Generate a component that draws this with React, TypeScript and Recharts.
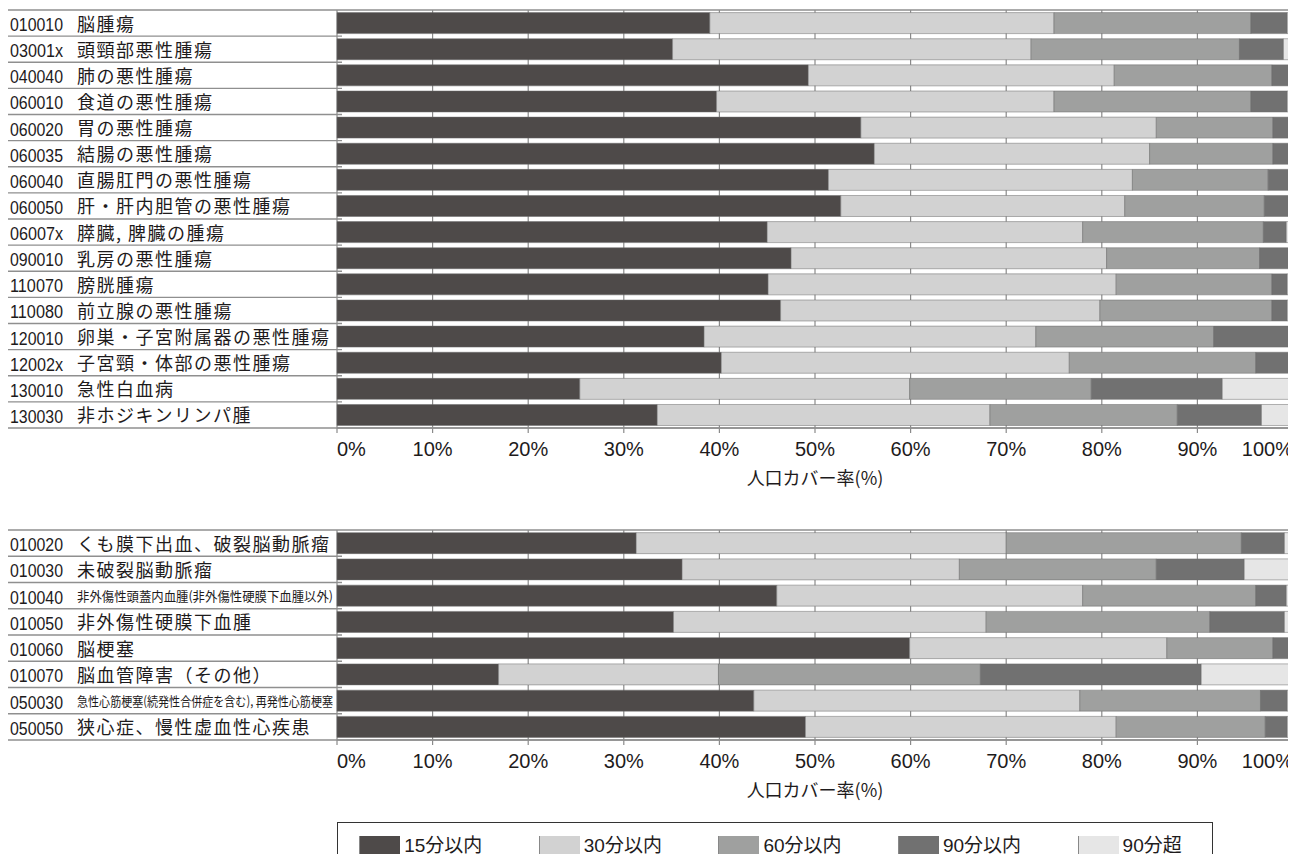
import React from 'react';
import { BarChart, Bar, XAxis, YAxis, CartesianGrid } from 'recharts';

const seriesNames = ['15分以内', '30分以内', '60分以内', '90分以内', '90分超'];
const seriesKeys = ['s15', 's30', 's60', 's90', 'sOver'];
const seriesColors = ['#4e4a49', '#d2d2d2', '#9fa09f', '#717171', '#e6e6e6'];
const xTicks = [0, 10, 20, 30, 40, 50, 60, 70, 80, 90, 100];
const axisTitle = '人口カバー率(%)';

const topCodes = ['010010', '03001x', '040040', '060010', '060020', '060035', '060040', '060050', '06007x', '090010', '110070', '110080', '120010', '12002x', '130010', '130030'];
const topNames = ['脳腫瘍', '頭頸部悪性腫瘍', '肺の悪性腫瘍', '食道の悪性腫瘍', '胃の悪性腫瘍', '結腸の悪性腫瘍', '直腸肛門の悪性腫瘍', '肝・肝内胆管の悪性腫瘍', '膵臓, 脾臓の腫瘍', '乳房の悪性腫瘍', '膀胱腫瘍', '前立腺の悪性腫瘍', '卵巣・子宮附属器の悪性腫瘍', '子宮頸・体部の悪性腫瘍', '急性白血病', '非ホジキンリンパ腫'];
const topWithin15 = [39.0, 35.1, 49.3, 39.7, 54.8, 56.2, 51.4, 52.7, 45.0, 47.5, 45.1, 46.4, 38.4, 40.2, 25.4, 33.5];
const topWithin30 = [36.0, 37.5, 32.0, 35.3, 30.9, 28.8, 31.8, 29.7, 33.0, 33.0, 36.4, 33.4, 34.7, 36.4, 34.5, 34.8];
const topWithin60 = [20.6, 21.8, 16.5, 20.6, 12.2, 12.9, 14.2, 14.6, 18.9, 16.0, 16.3, 18.0, 18.6, 19.5, 19.0, 19.6];
const topWithin90 = [3.8, 4.6, 1.8, 3.8, 1.7, 1.7, 2.2, 2.6, 2.4, 3.1, 1.6, 1.6, 7.9, 3.5, 13.7, 8.8];
const topOver90 = [0.6, 1.0, 0.4, 0.6, 0.4, 0.4, 0.4, 0.4, 0.7, 0.4, 0.6, 0.6, 0.4, 0.4, 7.4, 3.3];

const bottomCodes = ['010020', '010030', '010040', '010050', '010060', '010070', '050030', '050050'];
const bottomNames = ['くも膜下出血、破裂脳動脈瘤', '未破裂脳動脈瘤', '非外傷性頭蓋内血腫(非外傷性硬膜下血腫以外)', '非外傷性硬膜下血腫', '脳梗塞', '脳血管障害（その他）', '急性心筋梗塞(続発性合併症を含む), 再発性心筋梗塞', '狭心症、慢性虚血性心疾患'];
const bottomWithin15 = [31.3, 36.1, 46.0, 35.2, 59.9, 16.9, 43.6, 49.0];
const bottomWithin30 = [38.7, 29.0, 32.0, 32.7, 26.9, 23.0, 34.1, 32.5];
const bottomWithin60 = [24.6, 20.6, 18.1, 23.4, 11.1, 27.4, 18.9, 15.6];
const bottomWithin90 = [4.5, 9.2, 3.2, 7.8, 1.7, 23.1, 2.8, 2.3];
const bottomOver90 = [0.9, 5.1, 0.7, 0.9, 0.4, 9.6, 0.6, 0.6];

type Row = { code: string; name: string; [k: string]: any };

function buildRows(codes: string[], names: string[], a: number[], b: number[], c: number[], d: number[], e: number[]): Row[] {
  return codes.map((code, i) => ({
    code,
    name: names[i],
    s15: a[i],
    s30: b[i],
    s60: c[i],
    s90: d[i],
    sOver: e[i],
  }));
}

const topRows = buildRows(topCodes, topNames, topWithin15, topWithin30, topWithin60, topWithin90, topOver90);
const bottomRows = buildRows(bottomCodes, bottomNames, bottomWithin15, bottomWithin30, bottomWithin60, bottomWithin90, bottomOver90);

const CHART_W = 1288;
const Y_W = 329;
const M_RIGHT = 3;
const PLOT_RIGHT = CHART_W - M_RIGHT;
const X_AXIS_H = 60;
const LATIN = '"Liberation Sans", Arial, "Noto Sans CJK JP", sans-serif';
const CJK = '"Noto Sans CJK JP", "Liberation Sans", sans-serif';
const LINE = '#8f8f8f';
const INK = '#1e1b1c';

function renderYTick(props: any, rows: Row[], rowH: number) {
  const { y, payload } = props;
  let index = props.index;
  if (index == null) index = rows.findIndex((r) => r.code === payload.value);
  const row = rows[index] || rows[0];
  const n = rows.length;
  const half = rowH / 2;
  const long = row.name.length > 16;
  return (
    <g>
      {index === 0 && (
        <line x1={0} x2={PLOT_RIGHT} y1={y - half} y2={y - half} stroke={LINE} strokeWidth={1.4} />
      )}
      <line
        x1={0}
        x2={index === n - 1 ? PLOT_RIGHT : Y_W + 5}
        y1={y + half}
        y2={y + half}
        stroke={LINE}
        strokeWidth={1.4}
      />
      <text
        x={2}
        y={y + 8}
        fontSize={18}
        fontFamily={LATIN}
        fill={INK}
        textLength={53}
        lengthAdjust="spacingAndGlyphs"
      >
        {row.code}
      </text>
      {long ? (
        <text
          x={69}
          y={y + 5.5}
          fontSize={13}
          fontFamily={CJK}
          fill={INK}
          textLength={256}
          lengthAdjust="spacingAndGlyphs"
        >
          {row.name}
        </text>
      ) : (
        <text x={69} y={y + 7.5} fontSize={18} letterSpacing={1.5} fontFamily={CJK} fill={INK}>
          {row.name}
        </text>
      )}
    </g>
  );
}

function renderXTick(props: any) {
  const { x, y, payload, index } = props;
  const anchor = index === 0 ? 'start' : index === xTicks.length - 1 ? 'end' : 'middle';
  return (
    <text x={x} y={y + 21} textAnchor={anchor} fontSize={20} fontFamily={LATIN} fill={INK}>
      {`${payload.value}%`}
    </text>
  );
}

function StackedChart({ rows, plotH, top }: { rows: Row[]; plotH: number; top: number }) {
  const height = 2 + plotH + X_AXIS_H;
  const rowH = plotH / rows.length;
  return (
    <div style={{ position: 'absolute', left: 0, top }}>
      <BarChart
        width={CHART_W}
        height={height}
        data={rows}
        layout="vertical"
        margin={{ top: 2, right: M_RIGHT, bottom: 0, left: 0 }}
        barCategoryGap="10%"
      >
        <CartesianGrid horizontal={false} vertical={true} stroke="#8a8a8a" strokeWidth={1.2} />
        <XAxis
          type="number"
          domain={[0, 100]}
          ticks={xTicks}
          interval={0}
          height={X_AXIS_H}
          axisLine={{ stroke: LINE, strokeWidth: 1.4 }}
          tickLine={{ stroke: '#8a8a8a', strokeWidth: 1.2 }}
          tickSize={5}
          tick={renderXTick}
        />
        <YAxis
          type="category"
          dataKey="code"
          width={Y_W}
          axisLine={false}
          tickLine={false}
          interval={0}
          tick={(p: any) => renderYTick(p, rows, rowH)}
        />
        {seriesKeys.map((k, i) => (
          <Bar
            key={k}
            dataKey={k}
            name={seriesNames[i]}
            stackId="a"
            fill={seriesColors[i]}
            stroke="#6a6a6a"
            strokeWidth={0.5}
            isAnimationActive={false}
          />
        ))}
      </BarChart>
      <div
        style={{
          position: 'absolute',
          left: Y_W,
          width: PLOT_RIGHT - Y_W,
          top: 2 + plotH + 49 - 9,
          height: 18,
          lineHeight: '18px',
          textAlign: 'center',
          fontSize: 18,
          fontFamily: CJK,
          color: INK,
          whiteSpace: 'nowrap',
        }}
      >
        {axisTitle}
      </div>
    </div>
  );
}

function LegendBox() {
  return (
    <div
      style={{
        position: 'absolute',
        left: 328.7,
        top: 813.7,
        width: 876,
        height: 60,
        border: '1.5px solid #333',
        boxSizing: 'border-box',
      }}
    >
      {seriesNames.map((n, i) => (
        <div
          key={n}
          style={{
            position: 'absolute',
            left: 21.5 + i * 179.6,
            top: 13.5,
            display: 'flex',
            alignItems: 'center',
            height: 20,
          }}
        >
          <div
            style={{
              width: 41,
              height: 20,
              background: seriesColors[i],
              borderLeft: '1px solid #888',
              boxSizing: 'border-box',
            }}
          />
          <span
            style={{
              marginLeft: 4,
              fontSize: 19,
              lineHeight: '20px',
              fontFamily: LATIN,
              color: INK,
              whiteSpace: 'nowrap',
            }}
          >
            {n}
          </span>
        </div>
      ))}
    </div>
  );
}

export default function App() {
  return (
    <div style={{ position: 'relative', width: CHART_W, height: 846, background: '#fff' }}>
      <style>{'html,body{overflow:hidden;}'}</style>
      <StackedChart rows={topRows} plotH={418} top={0} />
      <StackedChart rows={bottomRows} plotH={210} top={520} />
      <LegendBox />
    </div>
  );
}
